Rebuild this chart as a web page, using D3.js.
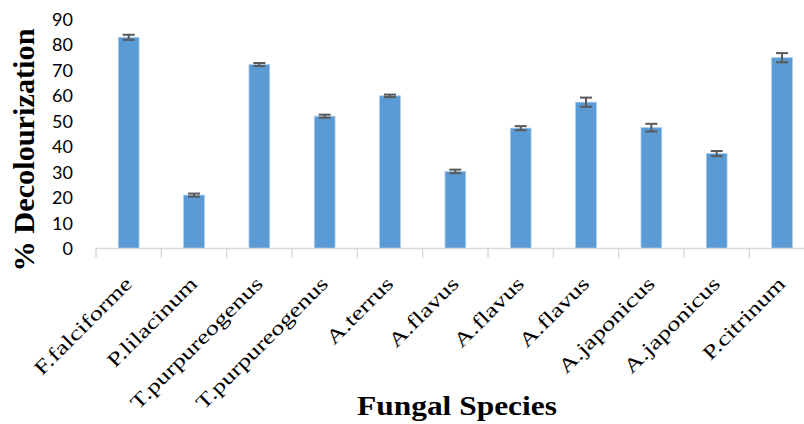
<!DOCTYPE html>
<html><head><meta charset="utf-8">
<script src="https://cdn.jsdelivr.net/npm/d3@7"></script>
<style>html,body{margin:0;padding:0;background:#fff;}svg{display:block;}</style>
</head><body>
<svg id="chart" width="804" height="424"></svg>
<script>
const categories = ["F.falciforme","P.lilacinum","T.purpureogenus","T.purpureogenus","A.terrus","A.flavus","A.flavus","A.flavus","A.japonicus","A.japonicus","P.citrinum"];
const values = [83, 21, 72.3, 52, 60, 30.3, 47.3, 57.5, 47.5, 37.3, 75];
const errors = [1, 0.6, 0.6, 0.6, 0.5, 0.7, 0.8, 1.8, 1.5, 1, 1.8];
const yTicks = [0, 10, 20, 30, 40, 50, 60, 70, 80, 90];
const yTitle = "% Decolourization";
const xTitle = "Fungal Species";

const svg = d3.select("#chart");
const x0 = 96, x1 = 814.7, yBase = 248.5, yTop = 19.5;
const idx = categories.map((d, i) => i);
const x = d3.scaleBand().domain(idx).range([x0, x1]).paddingInner(0.683).paddingOuter(0.3415);
const y = d3.scaleLinear().domain([0, 90]).range([yBase, yTop]);
const step = x.step();

// bars
svg.append("g").selectAll("rect").data(idx).join("rect")
  .attr("x", i => x(i)).attr("width", x.bandwidth())
  .attr("y", i => y(values[i])).attr("height", i => y(0) - y(values[i]))
  .attr("fill", "#5B9BD5").attr("stroke", "#a8cbec").attr("stroke-width", 0.8);

// x axis line and separators
const ax = svg.append("g");
ax.append("line").attr("x1", x0).attr("x2", x1).attr("y1", yBase).attr("y2", yBase)
  .attr("stroke", "#d9d9d9").attr("stroke-width", 1.5);
const bounds = idx.map(i => x(i) + x.bandwidth() / 2 - step / 2).concat([x1]);
ax.selectAll("line.t").data(bounds).join("line").attr("class", "t")
  .attr("x1", d => d).attr("x2", d => d).attr("y1", yBase).attr("y2", yBase + 9)
  .attr("stroke", "#d9d9d9").attr("stroke-width", 1.5);

// error bars
const eb = svg.append("g").attr("stroke", "#595959").attr("stroke-width", 2);
idx.forEach(i => {
  const cx = x(i) + x.bandwidth() / 2;
  const hi = y(values[i] + errors[i]), lo = y(values[i] - errors[i]);
  eb.append("line").attr("x1", cx).attr("x2", cx).attr("y1", hi).attr("y2", lo);
  eb.append("line").attr("x1", cx - 6).attr("x2", cx + 6).attr("y1", hi).attr("y2", hi);
  eb.append("line").attr("x1", cx - 6).attr("x2", cx + 6).attr("y1", lo).attr("y2", lo);
});

// y tick labels
svg.append("g").selectAll("text").data(yTicks).join("text")
  .attr("x", 73).attr("y", d => y(d)).attr("dy", "0.36em")
  .attr("text-anchor", "end")
  .style("font-family", "Lato, 'Open Sans', sans-serif").style("font-size", "18px").attr("fill", "#000")
  .text(d => d);

// x tick labels
const xl = svg.append("g").selectAll("text").data(idx).join("text")
  .attr("text-anchor", "end")
  .attr("transform", i => `translate(${x(i) + x.bandwidth() / 2 + 4.6},285) rotate(-45)`)
  .style("font-family", "'Liberation Serif', serif").style("font-size", "20px").attr("fill", "#000")
  .text(i => categories[i]);
xl.each(function() {
  const L = this.getComputedTextLength();
  d3.select(this).attr("textLength", L * 1.32).attr("lengthAdjust", "spacingAndGlyphs");
});

// axis titles
svg.append("text").attr("x", 457).attr("y", 415).attr("text-anchor", "middle")
  .attr("textLength", 200).attr("lengthAdjust", "spacingAndGlyphs")
  .style("font-family", "'Liberation Serif', serif").style("font-size", "27px").style("font-weight", "bold")
  .text(xTitle);
svg.append("text").attr("transform", "translate(34,150) rotate(-90)").attr("text-anchor", "middle")
  .attr("textLength", 243).attr("lengthAdjust", "spacingAndGlyphs")
  .style("font-family", "'Liberation Serif', serif").style("font-size", "30px").style("font-weight", "bold")
  .text(yTitle);
</script>
</body></html>
